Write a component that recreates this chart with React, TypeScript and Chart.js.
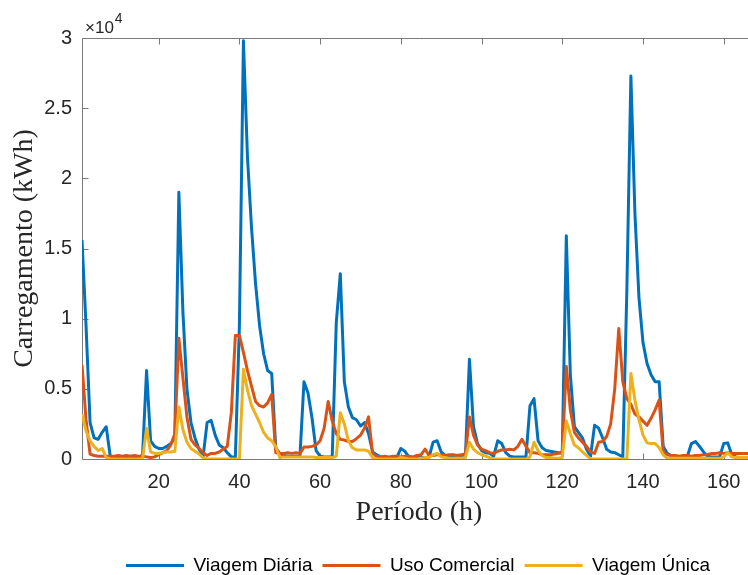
import React, { useEffect, useRef } from "react";
import { Chart, registerables } from "chart.js";

Chart.register(...registerables);

// Hours 1..168
const hours: number[] = Array.from({ length: 168 }, (_, i) => i + 1);

const viagemDiaria: number[] = [
  15600, 9500, 2600, 1500, 1400, 1900, 2300, 200, 150, 200, 150, 150, 200, 150, 150, 250,
  6300, 1300, 900, 750, 750, 900, 1100, 1500, 19000, 10500, 5000, 2600, 1500, 700, 150, 2600,
  2750, 1700, 1000, 800, 450, 150, 150, 9500, 29800, 21500, 16500, 12500, 9500, 7500, 6300, 6100,
  800, 400, 250, 200, 200, 200, 200, 5500, 4700, 2900, 600, 200, 150, 150, 150, 9700,
  13200, 5500, 3700, 2950, 2800, 2350, 2600, 1800, 500, 300, 150, 100, 100, 100, 100, 750,
  550, 150, 100, 100, 100, 100, 150, 1200, 1300, 500, 250, 200, 150, 150, 150, 200,
  7100, 2300, 1100, 600, 450, 400, 200, 1300, 1100, 450, 200, 150, 150, 150, 150, 3800,
  4300, 1300, 800, 600, 550, 500, 450, 400, 15900, 6000, 2300, 1900, 1500, 700, 200, 2400,
  2200, 1500, 700, 500, 450, 300, 150, 12000, 27300, 17500, 11500, 8300, 6800, 6000, 5500, 5500,
  900, 400, 250, 200, 150, 150, 200, 1100, 1250, 900, 500, 200, 150, 150, 150, 1100,
  1150, 300, 150, 100, 100, 100, 100, 100,
];

const usoComercial: number[] = [
  6700, 2800, 350, 250, 200, 200, 200, 200, 200, 250, 200, 250, 200, 250, 200, 200,
  150, 100, 150, 300, 450, 600, 1000, 1800, 8600, 5800, 3000, 1400, 1000, 750, 450, 250,
  400, 400, 500, 700, 900, 3300, 8800, 8800, 7600, 6300, 5200, 4100, 3800, 3700, 4000, 4600,
  450, 400, 400, 450, 400, 450, 400, 850, 850, 900, 1000, 1300, 2200, 4100, 2700, 1800,
  1400, 1350, 1250, 1250, 1450, 1700, 2200, 3000, 400, 200, 150, 200, 150, 200, 200, 150,
  200, 200, 150, 250, 300, 700, 250, 250, 300, 300, 250, 300, 300, 250, 300, 350,
  3000, 1700, 1000, 700, 600, 450, 400, 550, 650, 650, 700, 650, 900, 1400, 900, 450,
  450, 400, 300, 300, 300, 350, 400, 500, 6600, 3500, 1900, 1500, 1200, 900, 500, 400,
  1200, 1250, 1600, 2500, 5000, 9300, 5500, 4300, 3900, 3200, 3000, 2700, 2400, 2900, 3500, 4200,
  500, 300, 250, 250, 200, 250, 250, 200, 250, 250, 300, 300, 400, 400, 450, 400,
  450, 400, 400, 400, 400, 400, 400, 400,
];

const viagemUnica: number[] = [
  3200, 2000, 1300, 900, 600, 750, 100, 0, 0, 0, 0, 0, 0, 0, 0, 0,
  2200, 500, 400, 400, 450, 500, 500, 550, 3700, 2100, 1200, 750, 550, 350, 100, 0,
  0, 0, 0, 0, 0, 0, 0, 0, 6400, 4900, 3800, 3200, 2600, 1900, 1500, 1300,
  900, 100, 150, 150, 150, 150, 150, 150, 150, 150, 100, 100, 100, 100, 100, 200,
  3300, 2500, 1300, 800, 650, 650, 650, 550, 100, 0, 0, 0, 0, 0, 0, 100,
  50, 0, 0, 0, 50, 100, 100, 300, 400, 150, 100, 50, 50, 50, 50, 100,
  1200, 700, 450, 300, 200, 100, 0, 0, 0, 0, 0, 0, 0, 0, 0, 150,
  1200, 600, 250, 100, 100, 50, 50, 100, 2700, 1800, 1000, 800, 500, 250, 0, 0,
  0, 0, 0, 0, 0, 0, 0, 0, 6100, 4200, 2800, 1700, 1150, 1100, 1100, 800,
  300, 50, 50, 50, 50, 50, 50, 50, 50, 50, 50, 50, 50, 50, 50, 150,
  450, 150, 100, 100, 100, 100, 100, 100,
];

const seriesNames: string[] = ["Viagem Diária", "Uso Comercial", "Viagem Única"];
const seriesColors: string[] = ["#0072BD", "#D95319", "#EDB120"];
const xTickValues: number[] = [20, 40, 60, 80, 100, 120, 140, 160];
const yTickValues: number[] = [0, 5000, 10000, 15000, 20000, 25000, 30000];

const TEXT = "#262626";

const matlabAxes = {
  id: "matlabAxes",
  afterLayout(chart: any) {
    // centre the legend under the (partly hidden) axes like the original figure
    const lg = chart.legend;
    if (lg) {
      lg.left = 80;
    }
  },
  beforeDatasetsDraw(chart: any) {
    const { ctx, chartArea: a, scales } = chart;
    const x = scales.x;
    const y = scales.y;
    ctx.save();
    ctx.strokeStyle = "#7a7a7a";
    ctx.lineWidth = 1;
    const L = Math.round(a.left) + 0.5;
    const R = Math.round(a.right) + 0.5;
    const T = Math.round(a.top) + 0.5;
    const B = Math.round(a.bottom) + 0.5;
    ctx.beginPath();
    ctx.rect(L, T, R - L, B - T);
    const len = 6;
    for (const v of xTickValues) {
      const px = Math.round(x.getPixelForValue(v)) + 0.5;
      ctx.moveTo(px, B);
      ctx.lineTo(px, B - len);
      ctx.moveTo(px, T);
      ctx.lineTo(px, T + len);
    }
    for (const v of yTickValues) {
      const py = Math.round(y.getPixelForValue(v)) + 0.5;
      ctx.moveTo(L, py);
      ctx.lineTo(L + len, py);
      ctx.moveTo(R, py);
      ctx.lineTo(R - len, py);
    }
    ctx.stroke();
    ctx.restore();
  },
  afterDraw(chart: any) {
    const { ctx, chartArea: a } = chart;
    ctx.save();
    ctx.fillStyle = TEXT;
    ctx.textBaseline = "alphabetic";
    ctx.textAlign = "left";
    ctx.font = "17px 'Liberation Sans', Arial, sans-serif";
    const base = a.top - 5;
    ctx.fillText("\u00d710", a.left + 3, base);
    const w = ctx.measureText("\u00d710").width;
    ctx.font = "14px 'Liberation Sans', Arial, sans-serif";
    ctx.fillText("4", a.left + 3 + w + 1, base - 10);
    ctx.restore();
  },
};

export default function App() {
  const ref = useRef<HTMLCanvasElement | null>(null);

  useEffect(() => {
    if (!ref.current) return;
    const datasets = [viagemDiaria, usoComercial, viagemUnica].map((vals, i) => ({
      label: seriesNames[i],
      data: hours.map((h, j) => ({ x: h, y: vals[j] })),
      borderColor: seriesColors[i],
      backgroundColor: seriesColors[i],
      borderWidth: 3,
      pointRadius: 0,
      tension: 0,
      borderJoinStyle: "round" as const,
      fill: false,
      order: 3 - i,
    }));

    const chart = new Chart(ref.current, {
      type: "line",
      data: { datasets },
      options: {
        animation: false,
        responsive: false,
        devicePixelRatio: 1,
        parsing: false as any,
        layout: { padding: { top: 38, right: 84, left: 0, bottom: 0 } },
        plugins: {
          tooltip: { enabled: false },
          legend: {
            position: "bottom",
            labels: {
              font: { family: "'Liberation Sans', Arial, sans-serif", size: 19 },
              color: "#000",
              usePointStyle: true,
              pointStyle: "line",
              pointStyleWidth: 58,
              padding: 10,
              sort: (a: any, b: any) => a.datasetIndex - b.datasetIndex,
            },
          },
        },
        scales: {
          x: {
            type: "linear",
            min: 1,
            max: 168,
            grid: { display: false, drawTicks: false },
            border: { display: false },
            afterBuildTicks: (s: any) => {
              s.ticks = xTickValues.map((v) => ({ value: v }));
            },
            afterFit: (s: any) => {
              s.height = 87;
            },
            ticks: {
              padding: 11,
              maxRotation: 0,
              autoSkip: false,
              color: TEXT,
              font: { family: "'Liberation Sans', Arial, sans-serif", size: 20 },
              callback: (v: any) => String(v),
            },
            title: {
              display: true,
              text: "Período (h)",
              color: TEXT,
              font: { family: "'Liberation Serif', 'Times New Roman', serif", size: 28 },
              padding: { top: 0, bottom: 17 },
            },
          },
          y: {
            type: "linear",
            min: 0,
            max: 30000,
            grid: { display: false, drawTicks: false },
            border: { display: false },
            afterFit: (s: any) => {
              s.width = 82;
            },
            ticks: {
              stepSize: 5000,
              padding: 10,
              color: TEXT,
              font: { family: "'Liberation Sans', Arial, sans-serif", size: 20 },
              callback: (v: any) => String(Number(v) / 10000),
            },
            title: {
              display: true,
              text: "Carregamento (kWh)",
              color: TEXT,
              font: { family: "'Liberation Serif', 'Times New Roman', serif", size: 28 },
              padding: { top: 8, bottom: 0 },
            },
          },
        },
      },
      plugins: [matlabAxes],
    });
    return () => chart.destroy();
  }, []);

  return (
    <div
      style={{
        position: "fixed",
        left: 0,
        top: 0,
        width: 748,
        height: 575,
        overflow: "hidden",
        background: "#fff",
      }}
    >
      <canvas ref={ref} width={840} height={585} style={{ display: "block" }} />
    </div>
  );
}
